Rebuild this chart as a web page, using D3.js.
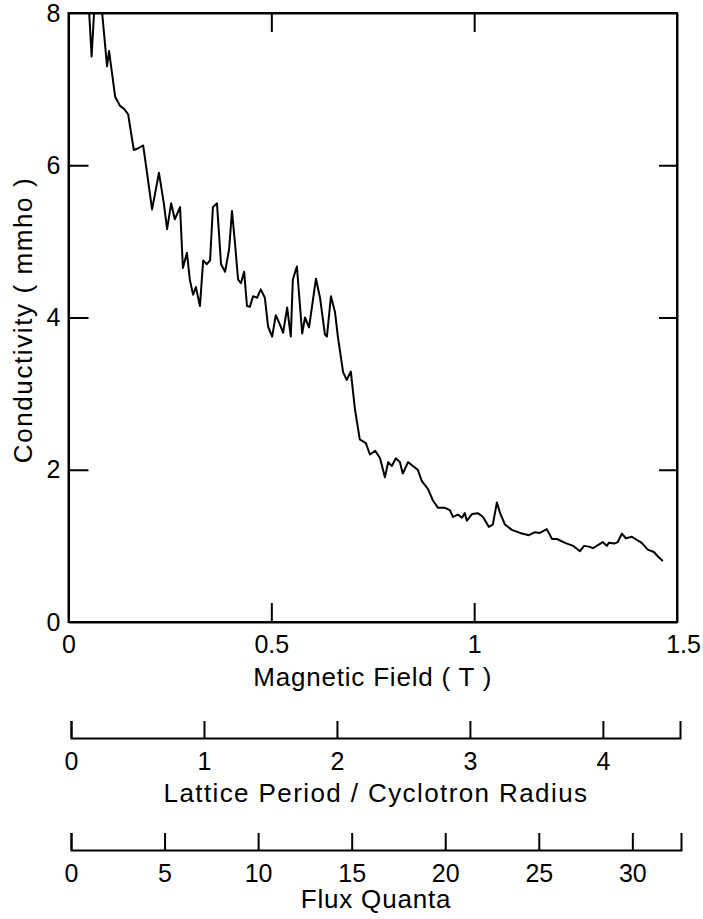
<!DOCTYPE html>
<html>
<head>
<meta charset="utf-8">
<script src="https://cdn.jsdelivr.net/npm/d3@7"></script>
<style>
  body { margin: 0; background: #fff; }
  text { font-family: "Liberation Sans", Arial, sans-serif; fill: #000; }
</style>
</head>
<body>
<div id="chart"></div>
<script>
// magnetic field (T) and conductivity (mmho)
var field = [0.041, 0.051, 0.057, 0.063, 0.070, 0.083, 0.095, 0.100, 0.115, 0.127,
  0.137, 0.147, 0.152, 0.161, 0.171, 0.184, 0.191, 0.206, 0.223, 0.235,
  0.243, 0.253, 0.262, 0.275, 0.282, 0.292, 0.299, 0.307, 0.314, 0.324,
  0.332, 0.341, 0.349, 0.356, 0.366, 0.376, 0.386, 0.396, 0.403, 0.410,
  0.418, 0.425, 0.433, 0.440, 0.447, 0.455, 0.465, 0.474, 0.484, 0.492,
  0.502, 0.511, 0.521, 0.529, 0.539, 0.548, 0.553, 0.563, 0.576, 0.583,
  0.593, 0.610, 0.620, 0.632, 0.637, 0.647, 0.657, 0.664, 0.677, 0.686,
  0.696, 0.706, 0.718, 0.733, 0.743, 0.756, 0.768, 0.780, 0.788, 0.797,
  0.807, 0.817, 0.824, 0.837, 0.849, 0.861, 0.871, 0.886, 0.898, 0.911,
  0.928, 0.940, 0.948, 0.960, 0.970, 0.977, 0.982, 0.995, 1.009, 1.022,
  1.036, 1.046, 1.056, 1.064, 1.076, 1.093, 1.113, 1.135, 1.150, 1.162,
  1.179, 1.192, 1.204, 1.224, 1.244, 1.261, 1.271, 1.283, 1.293, 1.305,
  1.317, 1.327, 1.332, 1.345, 1.354, 1.364, 1.374, 1.389, 1.401, 1.413,
  1.428, 1.443, 1.453, 1.465];
var conductivity = [8.6, 8.0, 7.43, 8.0, 8.4, 8.0, 7.3, 7.5, 6.9, 6.78,
  6.74, 6.67, 6.5, 6.2, 6.22, 6.26, 6.0, 5.42, 5.9, 5.5,
  5.16, 5.5, 5.29, 5.45, 4.65, 4.85, 4.5, 4.3, 4.4, 4.15,
  4.75, 4.7, 4.75, 5.45, 5.5, 4.7, 4.6, 4.9, 5.4, 5.0,
  4.5, 4.45, 4.6, 4.15, 4.14, 4.28, 4.26, 4.37, 4.26, 3.88,
  3.75, 4.03, 3.91, 3.80, 4.13, 3.75, 4.5, 4.67, 3.79, 4.0,
  3.87, 4.51, 4.26, 3.78, 3.75, 4.28, 4.07, 3.75, 3.28, 3.18,
  3.29, 2.8, 2.4, 2.35, 2.2, 2.25, 2.15, 1.9, 2.1, 2.05,
  2.15, 2.1, 1.95, 2.1, 2.05, 2.0, 1.85, 1.75, 1.6, 1.5,
  1.5, 1.47, 1.38, 1.41, 1.37, 1.43, 1.33, 1.42, 1.43, 1.38,
  1.25, 1.28, 1.57, 1.43, 1.28, 1.21, 1.17, 1.14, 1.18, 1.17,
  1.22, 1.09, 1.09, 1.04, 1.0, 0.93, 1.0, 0.99, 0.97, 1.01,
  1.05, 1.0, 1.04, 1.03, 1.05, 1.16, 1.1, 1.12, 1.08, 1.04,
  0.95, 0.92, 0.86, 0.80];

var fieldTicks = [0, 0.5, 1, 1.5];
var condTicks = [0, 2, 4, 6, 8];
var latticeTicks = [0, 1, 2, 3, 4];
var latticeMax = 4.58;   // lattice period / cyclotron radius at 1.5 T
var fluxTicks = [0, 5, 10, 15, 20, 25, 30];
var fluxMax = 32.6;      // flux quanta at 1.5 T

var W = 703, H = 919;
var svg = d3.select("#chart").append("svg")
  .attr("width", W).attr("height", H);

var pLeft = 68.5, pRight = 677, pTop = 13, pBottom = 622;
var tickFs = 25, titleFs = 26;

var x = d3.scaleLinear().domain([0, 1.5]).range([pLeft, pRight]);
var y = d3.scaleLinear().domain([0, 8]).range([pBottom, pTop]);

svg.append("defs").append("clipPath").attr("id", "plotclip")
  .append("rect").attr("x", pLeft).attr("y", pTop)
  .attr("width", pRight - pLeft).attr("height", pBottom - pTop);

var pts = field.map(function (b, i) { return [b, conductivity[i]]; });
var line = d3.line()
  .x(function (d) { return x(d[0]); })
  .y(function (d) { return y(d[1]); });

svg.append("path")
  .datum(pts)
  .attr("clip-path", "url(#plotclip)")
  .attr("d", line)
  .attr("fill", "none")
  .attr("stroke", "#000")
  .attr("stroke-width", 2)
  .attr("stroke-linejoin", "round");

// frame
svg.append("rect")
  .attr("x", pLeft).attr("y", pTop)
  .attr("width", pRight - pLeft).attr("height", pBottom - pTop)
  .attr("fill", "none").attr("stroke", "#000").attr("stroke-width", 2);

function styleAxis(g) {
  g.attr("font-size", null).attr("font-family", null);
  g.select(".domain").attr("stroke", "#000").attr("stroke-width", 2);
  g.selectAll(".tick line").attr("stroke", "#000").attr("stroke-width", 2);
  g.selectAll(".tick text")
    .style("font-size", tickFs + "px")
    .attr("fill", "#000");
}

var xb = svg.append("g").attr("transform", "translate(0," + pBottom + ")")
  .call(d3.axisBottom(x).tickValues(fieldTicks).tickFormat(d3.format("~g"))
    .tickSizeInner(-19).tickSizeOuter(0).tickPadding(13));
styleAxis(xb);
xb.selectAll(".tick").filter(function (d) { return d === 0 || d === 1.5; })
  .select("line").remove();
xb.selectAll(".tick").filter(function (d) { return d === 1.5; })
  .select("text").attr("dx", 6);

var xt = svg.append("g").attr("transform", "translate(0," + pTop + ")")
  .call(d3.axisTop(x).tickValues([0.5, 1]).tickFormat("")
    .tickSizeInner(-19).tickSizeOuter(0));
styleAxis(xt);

var yl = svg.append("g").attr("transform", "translate(" + pLeft + ",0)")
  .call(d3.axisLeft(y).tickValues(condTicks)
    .tickSizeInner(-20).tickSizeOuter(0).tickPadding(8));
styleAxis(yl);
yl.selectAll(".tick").filter(function (d) { return d === 0 || d === 8; })
  .select("line").remove();

var yr = svg.append("g").attr("transform", "translate(" + pRight + ",0)")
  .call(d3.axisRight(y).tickValues([2, 4, 6]).tickFormat("")
    .tickSizeInner(-18).tickSizeOuter(0));
styleAxis(yr);

svg.append("text")
  .attr("x", (pLeft + pRight) / 2).attr("y", 686)
  .attr("text-anchor", "middle")
  .style("font-size", titleFs + "px")
  .style("letter-spacing", "0.8px")
  .text("Magnetic Field ( T )");

svg.append("text")
  .attr("transform", "translate(32,320) rotate(-90)")
  .attr("text-anchor", "middle")
  .style("font-size", titleFs + "px")
  .style("letter-spacing", "1.6px")
  .text("Conductivity ( mmho )");

// secondary scales
var lat = d3.scaleLinear().domain([0, latticeMax]).range([71, 680]);
var gl = svg.append("g").attr("transform", "translate(0,738)")
  .call(d3.axisBottom(lat).tickValues(latticeTicks).tickFormat(d3.format("d"))
    .tickSizeInner(-17).tickSizeOuter(-17).tickPadding(14));
styleAxis(gl);
gl.select(".domain").attr("fill", "none");

svg.append("text")
  .attr("x", 376).attr("y", 802)
  .attr("text-anchor", "middle")
  .style("font-size", titleFs + "px")
  .style("letter-spacing", "1.4px")
  .text("Lattice Period / Cyclotron Radius");

var flx = d3.scaleLinear().domain([0, fluxMax]).range([71, 681]);
var gf = svg.append("g").attr("transform", "translate(0,850)")
  .call(d3.axisBottom(flx).tickValues(fluxTicks).tickFormat(d3.format("d"))
    .tickSizeInner(-17).tickSizeOuter(-17).tickPadding(14));
styleAxis(gf);
gf.select(".domain").attr("fill", "none");

svg.append("text")
  .attr("x", 376).attr("y", 908)
  .attr("text-anchor", "middle")
  .style("font-size", titleFs + "px")
  .style("letter-spacing", "0.8px")
  .text("Flux Quanta");
</script>
</body>
</html>
